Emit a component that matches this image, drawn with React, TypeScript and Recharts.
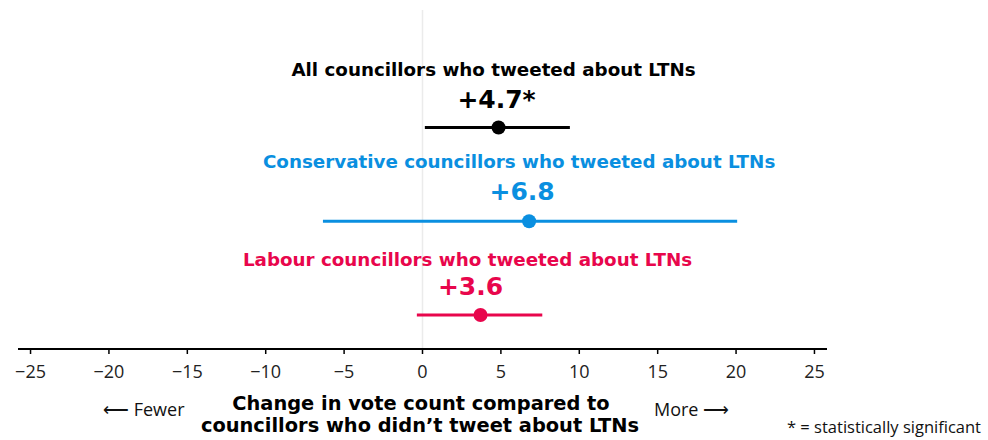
import React from "react";
import {
  ComposedChart,
  Scatter,
  ErrorBar,
  XAxis,
  YAxis,
  ReferenceLine,
} from "recharts";

const categories = [
  "All councillors who tweeted about LTNs",
  "Conservative councillors who tweeted about LTNs",
  "Labour councillors who tweeted about LTNs",
];
const estimates = [4.85, 6.8, 3.7];
const lowerBounds = [0.15, -6.35, -0.36];
const upperBounds = [9.4, 20.07, 7.64];
const valueLabels = ["+4.7*", "+6.8", "+3.6"];
const rowIndex = [2, 1, 0];
const xTicks = [-25, -20, -15, -10, -5, 0, 5, 10, 15, 20, 25];
const tickLabels = ["\u221225", "\u221220", "\u221215", "\u221210", "\u22125", "0", "5", "10", "15", "20", "25"];

const colors = ["#000000", "#0a8fe0", "#e8064c"];
const FONT = "'Open Sans', sans-serif";
const BOLD = "'DejaVu Sans', sans-serif";

// label offsets relative to the dot (styling, not data)
const titleDx = [-5, -10, -13];
const valueDx = [-2, -7, -10];
const titleDy = [-51, -53, -49];
const valueDy = [-19, -21, -20];

const seriesData = categories.map((name, i) => [
  {
    idx: i,
    name,
    x: estimates[i],
    y: rowIndex[i],
    err: [estimates[i] - lowerBounds[i], upperBounds[i] - estimates[i]],
  },
]);

const tickFormatter = (v: number) => {
  const k = xTicks.indexOf(v);
  return k >= 0 ? tickLabels[k] : String(v);
};

const DotShape = (props: any) => {
  const { cx, cy, payload } = props;
  const i = payload.idx;
  const c = colors[i];
  return (
    <g>
      <text
        x={cx + titleDx[i]}
        y={cy + titleDy[i]}
        textAnchor="middle"
        fill={c}
        fontFamily={BOLD}
        fontWeight={700}
        fontSize={18.3}
      >
        {categories[i]}
      </text>
      <text
        x={cx + valueDx[i]}
        y={cy + valueDy[i]}
        textAnchor="middle"
        fill={c}
        fontFamily={BOLD}
        fontWeight={700}
        fontSize={25}
      >
        {valueLabels[i]}
      </text>
      <circle cx={cx} cy={cy} r={7} fill={c} />
    </g>
  );
};

export default function App() {
  return (
    <div style={{ position: "absolute", left: 0, top: 0, width: 988, height: 440, background: "#fff" }}>
      <ComposedChart
        width={988}
        height={440}
        margin={{ top: 10, right: 161, bottom: 61, left: 18 }}
      >
        <XAxis
          type="number"
          dataKey="x"
          domain={[-25.8, 25.8]}
          ticks={xTicks}
          tickFormatter={tickFormatter}
          allowDataOverflow
          height={30}
          axisLine={{ stroke: "#000", strokeWidth: 2 }}
          tickLine={{ stroke: "#000", strokeWidth: 1.5 }}
          tickSize={5}
          tickMargin={11}
          tick={{ fill: "#222", fontSize: 18, fontFamily: FONT }}
        />
        <YAxis type="number" dataKey="y" domain={[-0.363, 3.253]} hide />
        <ReferenceLine x={0} stroke="#ebebeb" strokeWidth={1.5} />
        {seriesData.map((d, i) => (
          <Scatter
            key={i}
            data={d}
            dataKey="y"
            fill={colors[i]}
            shape={DotShape}
            isAnimationActive={false}
          >
            <ErrorBar
              dataKey="err"
              direction="x"
              width={0}
              stroke={colors[i]}
              strokeWidth={3}
            />
          </Scatter>
        ))}
      </ComposedChart>
      <svg
        width={988}
        height={440}
        style={{ position: "absolute", left: 0, top: 0, pointerEvents: "none" }}
      >
        <text x={103} y={416} fontFamily={FONT} fontSize={18} fill="#111">
          {"\u27F5 Fewer"}
        </text>
        <text x={654} y={416} fontFamily={FONT} fontSize={18} fill="#111">
          {"More \u27F6"}
        </text>
        <text x={421} y={410} textAnchor="middle" fontFamily={BOLD} fontWeight={700} fontSize={19.4} fill="#000">
          Change in vote count compared to
        </text>
        <text x={420} y={432} textAnchor="middle" fontFamily={BOLD} fontWeight={700} fontSize={19.4} fill="#000">
          councillors who didn’t tweet about LTNs
        </text>
        <text x={787} y={433} fontFamily={FONT} fontSize={16.5} fill="#111">
          * = statistically significant
        </text>
      </svg>
    </div>
  );
}
